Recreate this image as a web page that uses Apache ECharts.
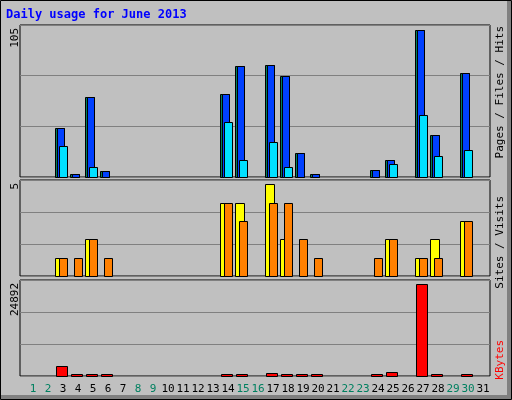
<!DOCTYPE html>
<html><head><meta charset="utf-8">
<script src="https://cdn.jsdelivr.net/npm/echarts@6/dist/echarts.min.js"></script>
<style>html,body{margin:0;padding:0;background:#c0c0c0}#c{width:512px;height:400px}</style>
</head><body><div id="c"></div>
<script>
const days = Array.from({length:31},(_,i)=>i+1);
const weekend = [1,2,8,9,15,16,22,23,29,30];
const hits   = [0,0,35,2,57,4,0,0,0,0,0,0,0,59,79,0,80,72,17,2,0,0,0,5,12,0,105,30,0,74,0];
const files  = [0,0,35,2,57,4,0,0,0,0,0,0,0,59,79,0,80,72,17,2,0,0,0,5,12,0,105,30,0,74,0];
const pages  = [0,0,22,0,7,0,0,0,0,0,0,0,0,39,12,0,25,7,0,0,0,0,0,0,9,0,44,15,0,19,0];
const visits = [0,0,1,0,2,0,0,0,0,0,0,0,0,4,4,0,5,2,0,0,0,0,0,0,2,0,1,2,0,3,0];
const sites  = [0,0,1,1,2,1,0,0,0,0,0,0,0,4,3,0,4,4,2,1,0,0,0,1,2,0,1,1,0,3,0];
const kbytes = [0,0,2800,150,400,150,0,0,0,0,0,0,0,400,400,0,900,400,150,150,0,0,0,400,1180,0,24892,150,0,400,0];

function barSeries(data, gi, x0, x1, color, z){
  return {type:'custom', xAxisIndex:gi, yAxisIndex:gi, z:z,
    data: days.map((d,i)=>[d,data[i]]),
    renderItem:(p,api)=>{
      const v=api.value(1); if(!v) return null;
      const top=api.coord([api.value(0),v]), bot=api.coord([api.value(0),0]);
      let h=bot[1]-top[1]; if(h<2) h=2;
      return {type:'rect', shape:{x:Math.round(top[0])+x0+0.5, y:Math.round(bot[1]-h)+0.5, width:x1-x0, height:Math.round(h)},
        style:{fill:color, stroke:'#000', lineWidth:1}};
    }};
}
const grids=[{left:20,right:22,top:25,height:152},{left:20,right:22,top:180,height:96},{left:20,right:22,top:280,height:96}];
const maxes=[108.3,5.23,25980];
const xAxes=grids.map((g,i)=>({type:'value',gridIndex:i,min:0.1333,max:31.4667,splitLine:{show:false},axisLine:{show:false},axisTick:{show:false},
  axisLabel: i<2?{show:false}:{show:true,customValues:days,margin:8,fontFamily:'DejaVu Sans Mono',fontSize:11,
    formatter:v=>weekend.includes(v)?'{g|'+v+'}':'{b|'+v+'}',rich:{g:{color:'#008060',fontFamily:'DejaVu Sans Mono',fontSize:11},b:{color:'#000',fontFamily:'DejaVu Sans Mono',fontSize:11}}}}));
const yAxes=grids.map((g,i)=>({type:'value',gridIndex:i,min:0,max:maxes[i],interval:maxes[i]/3,axisLabel:{show:false},axisLine:{show:false},axisTick:{show:false},
  splitLine:{show:true,lineStyle:{color:'#808080',width:1}}}));
function vtext(x,y,rich,text){return {type:'text',x:x,y:y,rotation:Math.PI/2,style:{text:text,rich:rich,font:'11px DejaVu Sans Mono',fill:'#000',align:'right',verticalAlign:'middle'}};}
const fnt={fontFamily:'DejaVu Sans Mono',fontSize:11};
const chart=echarts.init(document.getElementById('c'));
chart.setOption({
  backgroundColor:'#c0c0c0', animation:false,
  grid:grids.map(g=>Object.assign({show:true,borderColor:'#000',borderWidth:1,backgroundColor:'#c0c0c0'},g)),
  xAxis:xAxes, yAxis:yAxes,
  series:[
    barSeries(hits,0,-8,1,'#00805c',1), barSeries(files,0,-6,1,'#0040ff',2), barSeries(pages,0,-4,4,'#00e0ff',3),
    barSeries(visits,1,-8,1,'#ffff00',1), barSeries(sites,1,-4,4,'#ff8000',2),
    barSeries(kbytes,2,-7,4,'#ff0000',1)
  ],
  graphic:[
    {type:'rect',shape:{x:0.5,y:0.5,width:511,height:399},style:{fill:null,stroke:'#000',lineWidth:1},z:-1},
    {type:'rect',shape:{x:1,y:395,width:510,height:4},style:{fill:'#808080'},z:-1},
    {type:'rect',shape:{x:507,y:1,width:4,height:398},style:{fill:'#808080'},z:-1},
    {type:'text',x:6,y:9,style:{text:'Daily usage for June 2013',font:'bold 12px DejaVu Sans Mono',fill:'#0000ff'}},
    vtext(15,28,null,'105'), vtext(15,183,null,'5'), vtext(15,283,null,'24892'),
    {type:'text',x:500,y:26,rotation:Math.PI/2,style:{text:'{c|Pages}{s| / }{b|Files}{s| / }{g|Hits}',align:'right',verticalAlign:'middle',
      rich:{c:Object.assign({color:'#00c8e8'},fnt),s:Object.assign({color:'#404040'},fnt),b:Object.assign({color:'#0040ff'},fnt),g:Object.assign({color:'#008060'},fnt)}}},
    {type:'text',x:500,y:196,rotation:Math.PI/2,style:{text:'{o|Sites}{s| / }{y|Visits}',align:'right',verticalAlign:'middle',
      rich:{o:Object.assign({color:'#ff8000'},fnt),s:Object.assign({color:'#404040'},fnt),y:Object.assign({color:'#e8e800'},fnt)}}},
    {type:'text',x:500,y:340,rotation:Math.PI/2,style:{text:'KBytes',font:'11px DejaVu Sans Mono',fill:'#ff0000',align:'right',verticalAlign:'middle'}}
  ]
});
</script></body></html>
